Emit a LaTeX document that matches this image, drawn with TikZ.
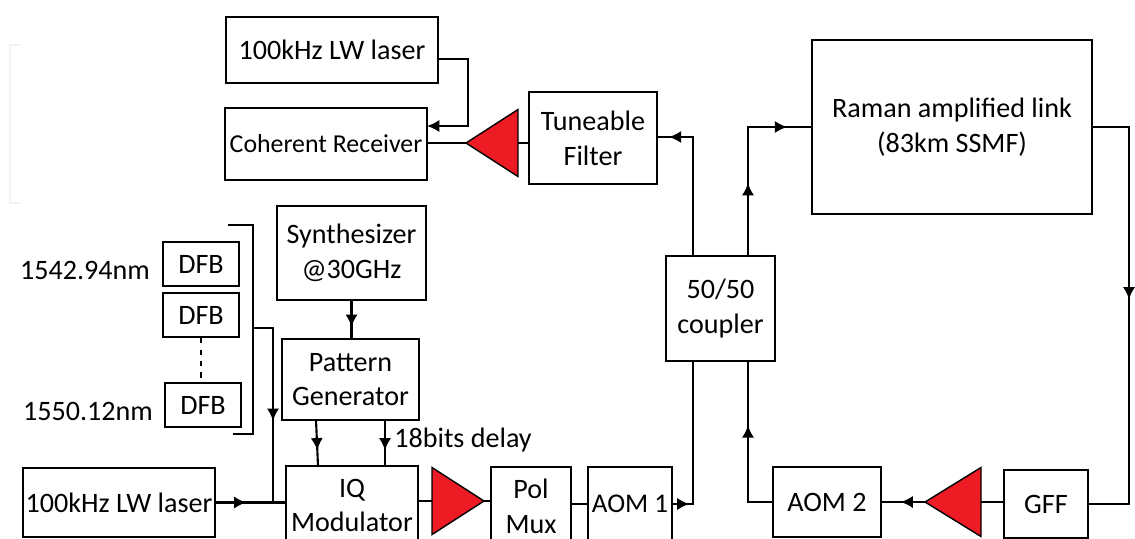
\documentclass[tikz,border=0pt]{standalone}
\usepackage{fontspec}
\usepackage{xcolor}
\setmainfont{Carlito}
\usetikzlibrary{arrows.meta,shapes.geometric,decorations.markings}
\definecolor{ampred}{HTML}{ED1C24}
\tikzset{
  box/.style={draw,line width=1.3pt,align=center,inner sep=0pt,font=\fontsize{16}{19.8}\selectfont},
  tag/.style={inner sep=0pt,font=\fontsize{16}{19.8}\selectfont},
  wire/.style={line width=1.2pt},
  tip/.style={wire,-{Latex[length=7pt,width=7pt]}},
  flow/.style={wire,postaction={decorate,decoration={markings,mark=at position #1 with {\arrow{Latex[length=7pt,width=7pt]}}}}},
  amp/.style={draw,line width=0.8pt,outer sep=0pt,fill=ampred,isosceles triangle,isosceles triangle stretches,inner sep=0pt,minimum width=1.34cm,minimum height=1.04cm}
}
\begin{document}
\begin{tikzpicture}[x=0.02cm,y=-0.02cm]
      \clip (0,0) rectangle (1135,538);
      \draw [gray!10,line width=1.5pt] (21,45) -- (10,45) -- (10,203) -- (21,203);
      \node [box,minimum width=4.24cm,minimum height=1.32cm] (lwtop) at (332,50) {100kHz LW laser};
      \node [box,minimum width=4.04cm,minimum height=1.44cm,font=\fontsize{14.7}{19.8}\selectfont] (recv) at (326,144) {Coherent Receiver};
      \node [box,minimum width=2.56cm,minimum height=1.84cm] (filter) at (593,138) {Tuneable\\Filter};
      \node [box,minimum width=5.6cm,minimum height=3.48cm] (raman) at (952,127) {Raman amplified link\\(83km SSMF)};
      \node [box,minimum width=2.98cm,minimum height=1.88cm] (synth) at (351.5,253) {Synthesizer\\@30GHz};
      \node [box,minimum width=2.74cm,minimum height=1.62cm] (pattern) at (350.5,379.5) {Pattern\\Generator};
      \node [box,minimum width=1.52cm,minimum height=0.88cm] (dfba) at (201,264) {DFB};
      \node [box,minimum width=1.52cm,minimum height=0.88cm] (dfbb) at (201,315) {DFB};
      \node [box,minimum width=1.52cm,minimum height=0.88cm] (dfbc) at (203,405) {DFB};
      \node [box,minimum width=3.84cm,minimum height=1.38cm] (lwlow) at (119,502.5) {100kHz LW laser};
      \node [box,minimum width=2.64cm,minimum height=1.58cm] (iq) at (352,505.5) {IQ\\Modulator};
      \node [box,minimum width=1.6cm,minimum height=1.56cm] (pol) at (531,506) {Pol\\Mux};
      \node [box,minimum width=1.68cm,minimum height=1.48cm,font=\fontsize{15.4}{19.8}\selectfont] (aoma) at (630,504) {AOM 1};
      \node [box,minimum width=2.16cm,minimum height=1.4cm] (aomb) at (827,502) {AOM 2};
      \node [box,minimum width=1.68cm,minimum height=1.36cm] (gff) at (1046,504) {GFF};
      \node [box,minimum width=2.18cm,minimum height=2.1cm] (coupler) at (720.5,308.5) {50/50\\coupler};
      \node [amp,anchor=apex] (ampa) at (484,501) {};
      \node [amp,anchor=apex,shape border rotate=180] (ampb) at (466,143) {};
      \node [amp,anchor=apex,shape border rotate=180,minimum width=1.38cm,minimum height=1.12cm] (ampc) at (925,502) {};
      \node [tag] (wla) at (85,270) {1542.94nm};
      \node [tag] (wlb) at (88,411) {1550.12nm};
      \node [tag,anchor=west] (delay) at (394,440) {18bits delay};
      \coordinate (brtop) at (228,225);
      \coordinate (brbot) at (233,434);
      \coordinate (brmid) at (253,328);
      \coordinate (lwout) at (438,59);
      \coordinate (recvin) at (427,126);
      \coordinate (patl) at (316,420);
      \coordinate (patr) at (385,420);
      \coordinate (iql) at (318,466);
      \coordinate (iqr) at (385,466);
      \coordinate (cupa) at (693,256);
      \coordinate (cupb) at (748,256);
      \coordinate (cupc) at (693,361);
      \coordinate (cupd) at (748,361);
      \draw [wire] (brtop) -- (253,225) -- (253,434) -- (brbot);
      \draw [wire,dash pattern=on 3pt off 3.5pt] (dfbb.south) -- (dfbb.south |- dfbc.north);
      \draw [flow=0.58] (brmid) -- (273,328) -- (273,502.5);
      \draw [flow=0.44] (lwlow.east) -- (iq.west |- lwlow.east);
      \draw [flow=0.7] (synth.south) -- (synth.south |- pattern.north);
      \draw [flow=0.66] (patl) -- (iql);
      \draw [flow=0.66] (patr) -- (iqr);
      \draw [wire] (iq.east |- ampa.apex) -- (ampa.lower side);
      \draw [wire] (ampa.apex) -- (pol.west |- ampa.apex);
      \draw [wire] (pol.east |- aoma.west) -- (aoma.west);
      \draw [flow=0.1] (aoma.east) -- (693,504) -- (cupc);
      \draw [flow=0.93] (cupa) -- (693,137) -- (filter.east |- 693,137);
      \draw [wire] (ampb.lower side) -- (filter.west |- ampb.lower side);
      \draw [wire] (ampb.apex) -- (recv.east |- ampb.apex);
      \draw [tip] (lwout) -- (468,59) -- (468,126) -- (recvin);
      \draw [flow=0.38,flow=0.876] (cupb) -- (748,127) -- (raman.west |- 748,127);
      \draw [flow=0.46] (raman.east) -- (1129,127) -- (1129,504) -- (gff.east);
      \draw [wire] (gff.west |- ampc.lower side) -- (ampc.lower side);
      \draw [flow=0.57] (ampc.apex) -- (aomb.east);
      \draw [flow=0.61] (aomb.west) -- (748,502) -- (cupd);
    \end{tikzpicture}
\end{document}
